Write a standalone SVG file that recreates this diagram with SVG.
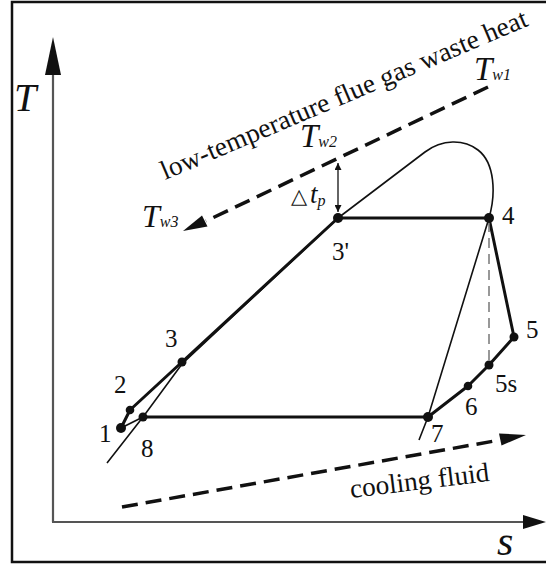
<svg xmlns="http://www.w3.org/2000/svg" width="546" height="565" viewBox="0 0 546 565">
<style>
.lbl{font-family:"Liberation Serif","Times New Roman",serif;font-size:25px;fill:#111}
.big{font-family:"Liberation Serif","Times New Roman",serif;font-size:27px;fill:#111}
.it{font-family:"Liberation Serif","Times New Roman",serif;font-style:italic;fill:#111}
.sub{font-family:"Liberation Serif","Times New Roman",serif;font-size:16px;fill:#111}
.thick{fill:none;stroke:#111;stroke-width:3;stroke-linejoin:round;stroke-linecap:round}
.thin{fill:none;stroke:#111;stroke-width:1.6;stroke-linejoin:round}
.dash{fill:none;stroke:#111;stroke-width:3.5;stroke-dasharray:16 8}
.dot{fill:#111}
.axis{stroke:#555;stroke-width:2.2;fill:none}
</style>
<defs>
<marker id="ah" viewBox="0 0 10 10" refX="10" refY="5" markerWidth="7" markerHeight="7" markerUnits="userSpaceOnUse" orient="auto-start-reverse">
<path d="M0,0 L10,5 L0,10 z" fill="#111"/>
</marker>
</defs>
<rect x="12" y="2" width="545" height="560" fill="#fff" stroke="#111" stroke-width="2.5"/>
<g id="axes">
<line class="axis" x1="53" y1="522" x2="53" y2="60"/>
<line class="axis" x1="52" y1="522" x2="525" y2="522"/>
<path d="M53,37 L61,75 L45,75 z" fill="#111"/>
<path d="M546,522 L523,515 L523,529 z" fill="#111"/>
<text class="it" x="14" y="111" font-size="40">T</text>
<text class="it" x="497" y="555" font-size="42">s</text>
</g>
<g id="connectors">
<path id="dome" class="thin" d="M107,463 L143,417 L182,364 L338,218 L425,152 C442,139 464,139 478,150 C495,163 496,194 489,218 L428,417 L419,440"/>
<path id="process-1-3p" class="thick" d="M121,428 L130,410 L182,362 L338,218"/>
<line class="thin" x1="121" y1="428" x2="143" y2="417" stroke-width="2"/>
<line class="thick" x1="338" y1="218" x2="489" y2="218"/>
<line class="thick" x1="489" y1="218" x2="514" y2="337" stroke-width="2.5"/>
<polyline class="thick" points="514,337 489,365 468,386 428,417" stroke-width="2.5"/>
<line x1="489" y1="222" x2="489" y2="362" stroke="#777" stroke-width="1.5" stroke-dasharray="10 6"/>
<line class="thick" x1="143" y1="417" x2="428" y2="417"/>
<line x1="338" y1="163" x2="338" y2="212" stroke="#111" stroke-width="1.3" marker-start="url(#ah)" marker-end="url(#ah)"/>
</g>
<g id="flue-gas">
<line class="dash" x1="488" y1="87" x2="206" y2="221"/>
<path d="M183,231 L207.5,226.5 L202,215.5 z" fill="#111"/>
<text class="it" x="474" y="80" font-size="33">T<tspan class="sub" font-style="italic">w</tspan><tspan class="sub">1</tspan></text>
<text class="it" x="300" y="147" font-size="33">T<tspan class="sub" font-style="italic">w</tspan><tspan class="sub">2</tspan></text>
<text class="it" x="142" y="227" font-size="32">T<tspan class="sub" font-style="italic">w</tspan><tspan class="sub">3</tspan></text>
<text class="big" transform="translate(165,180) rotate(-23)" textLength="396" lengthAdjust="spacingAndGlyphs">low-temperature flue gas waste heat</text>
</g>
<g id="cooling">
<line class="dash" x1="122" y1="507" x2="500" y2="440"/>
<path d="M526,435 L501.5,445.5 L499,433.5 z" fill="#111"/>
<text class="big" transform="translate(351,498) rotate(-7)" textLength="140" lengthAdjust="spacingAndGlyphs">cooling fluid</text>
</g>
<g id="delta-tp">
<text x="291" y="203" font-family="DejaVu Sans,sans-serif" font-size="21" fill="#111">△</text>
<text class="it" x="310" y="203" font-size="27">t<tspan class="sub" font-style="italic" dy="3">p</tspan></text>
</g>
<g id="p1"><circle class="dot" cx="121" cy="428" r="5"/><text class="lbl" x="99" y="442">1</text></g>
<g id="p2"><circle class="dot" cx="130" cy="410" r="4.3"/><text class="lbl" x="114" y="393">2</text></g>
<g id="p3"><circle class="dot" cx="182" cy="362" r="4.5"/><text class="lbl" x="165" y="347">3</text></g>
<g id="p3p"><circle class="dot" cx="338" cy="218" r="5"/><text class="lbl" x="332" y="260">3'</text></g>
<g id="p4"><circle class="dot" cx="489" cy="218" r="5"/><text class="lbl" x="502" y="224">4</text></g>
<g id="p5"><circle class="dot" cx="514" cy="337" r="4.5"/><text class="lbl" x="526" y="338">5</text></g>
<g id="p5s"><circle class="dot" cx="489" cy="365" r="4.5"/><text class="lbl" x="495" y="392">5s</text></g>
<g id="p6"><circle class="dot" cx="468" cy="386" r="4.3"/><text class="lbl" x="465" y="415">6</text></g>
<g id="p7"><circle class="dot" cx="428" cy="417" r="5"/><text class="lbl" x="431" y="442">7</text></g>
<g id="p8"><circle class="dot" cx="143" cy="417" r="4.5"/><text class="lbl" x="141" y="457">8</text></g>
</svg>
